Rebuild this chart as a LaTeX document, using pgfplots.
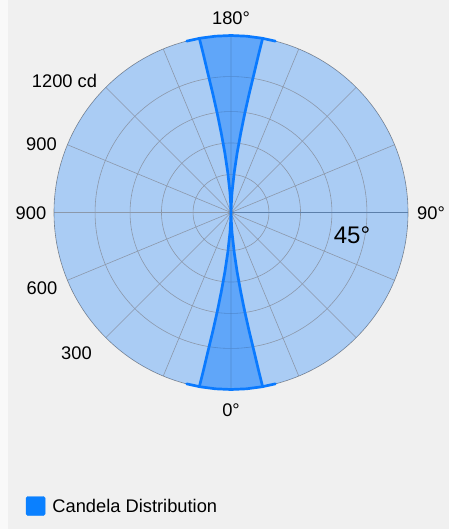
\documentclass[border=0pt]{standalone}
\usepackage{fontspec}
\setmainfont{Liberation Sans}
\usepackage{pgfplots}
\pgfplotsset{compat=1.18}
\usepgfplotslibrary{polar}
\definecolor{bgc}{RGB}{240,240,240}
\definecolor{lineblue}{RGB}{10,122,255}
\definecolor{gridc}{RGB}{196,165,134}
\definecolor{rimc}{RGB}{128,130,134}
\definecolor{legblue}{RGB}{10,128,255}
\newcommand{\lblfont}{\fontsize{18.3bp}{22bp}\selectfont}
\begin{document}
\begin{tikzpicture}
\path[use as bounding box] (0bp,0bp) rectangle (449bp,529bp);
\fill[white!60!bgc] (0bp,0bp) rectangle (449bp,529bp);
\fill[bgc] (8bp,0bp) rectangle (449bp,529bp);
\begin{polaraxis}[
  at={(231bp,316.5bp)}, anchor=center,
  scale only axis, width=354bp, height=354bp,
  clip=false,
  xmin=0, xmax=360,
  ymin=0, ymax=1250,
  xtick={0,22.5,...,337.5}, ytick={268,491,713,960},
  xticklabels={}, yticklabels={},
  major tick length=0pt,
  grid=major,
  grid style={draw=gridc, line width=0.6bp},
  axis line style={draw=rimc, line width=0.6bp},
  legend cell align=left,
  legend style={at={(-0.0791,-0.3291)}, anchor=west, draw=none, fill=none,
    inner sep=0pt, outer sep=0pt, font=\lblfont,
    nodes={inner sep=0pt, text height=13bp, text depth=0pt}},
]
% angles are polar angles (chart angle minus 90): chart 180 deg is at the top
% light disc (full range), translucent over the grid
\addplot[fill=lineblue, fill opacity=0.30, draw=none, forget plot] coordinates {
(0,1250) (5,1250) (10,1250) (15,1250) (20,1250) (25,1250) (30,1250) (35,1250) (40,1250) (45,1250)
(50,1250) (55,1250) (60,1250) (65,1250) (70,1250) (75,1250) (80,1250) (85,1250) (90,1250) (95,1250)
(100,1250) (105,1250) (110,1250) (115,1250) (120,1250) (125,1250) (130,1250) (135,1250) (140,1250) (145,1250)
(150,1250) (155,1250) (160,1250) (165,1250) (170,1250) (175,1250) (180,1250) (185,1250) (190,1250) (195,1250)
(200,1250) (205,1250) (210,1250) (215,1250) (220,1250) (225,1250) (230,1250) (235,1250) (240,1250) (245,1250)
(250,1250) (255,1250) (260,1250) (265,1250) (270,1250) (275,1250) (280,1250) (285,1250) (290,1250) (295,1250)
(300,1250) (305,1250) (310,1250) (315,1250) (320,1250) (325,1250) (330,1250) (335,1250) (340,1250) (345,1250)
(350,1250) (355,1250) (360,1250)};
% top lobe (chart 180 deg) fill
\addplot[fill=lineblue, fill opacity=0.46, draw=none, forget plot] coordinates {
(90,0) (92.3,71) (92.9,141) (94.6,282) (95.9,424) (97.0,565) (97.9,706) (98.7,847) (99.4,989) (99.9,1130) (100.3,1250)
(95,1250) (90,1250) (85,1250)
(79.7,1250) (80.1,1130) (80.6,989) (81.3,847) (82.1,706) (83.0,565) (84.1,424) (85.4,282) (87.1,141) (87.7,71) (90,0)};
% bottom lobe (chart 0 deg) fill
\addplot[fill=lineblue, fill opacity=0.46, draw=none, forget plot] coordinates {
(270,0) (267.7,71) (267.1,141) (265.4,282) (264.1,424) (263.0,565) (262.1,706) (261.3,847) (260.6,989) (260.1,1130) (259.7,1250)
(265,1250) (270,1250) (275,1250)
(280.3,1250) (279.9,1130) (279.4,989) (278.7,847) (277.9,706) (277.0,565) (275.9,424) (274.6,282) (272.9,141) (272.3,71) (270,0)};
% outlines
\addplot[draw=lineblue, line width=2.7bp, line join=round, line cap=round, forget plot] coordinates {
(104.5,1250) (100,1250) (95,1250) (90,1250) (85,1250) (80,1250) (75.5,1250)};
\addplot[draw=lineblue, line width=2.7bp, line join=round, line cap=round, forget plot] coordinates {
(100.3,1250) (99.9,1130) (99.4,989) (98.7,847) (97.9,706) (97.0,565) (95.9,424) (94.6,282) (92.9,141) (92.3,71) (90,0)
(87.7,71) (87.1,141) (85.4,282) (84.1,424) (83.0,565) (82.1,706) (81.3,847) (80.6,989) (80.1,1130) (79.7,1250)};
\addplot[draw=lineblue, line width=2.7bp, line join=round, line cap=round, forget plot] coordinates {
(255.5,1250) (260,1250) (265,1250) (270,1250) (275,1250) (280,1250) (284.5,1250)};
\addplot[draw=lineblue, line width=2.7bp, line join=round, line cap=round, forget plot] coordinates {
(259.7,1250) (260.1,1130) (260.6,989) (261.3,847) (262.1,706) (263.0,565) (264.1,424) (265.4,282) (267.1,141) (267.7,71) (270,0)
(272.3,71) (272.9,141) (274.6,282) (275.9,424) (277.0,565) (277.9,706) (278.7,847) (279.4,989) (279.9,1130) (280.3,1250)};
\addlegendimage{legend image code/.code={\fill[legblue, rounded corners=1.5bp] (0bp,-9.5bp) rectangle (19bp,9.5bp); \path (26bp,0bp);}}
\addlegendentry{Candela Distribution}
\end{polaraxis}
\node[font=\lblfont] at (231bp,511bp) {180°};
\node[font=\lblfont] at (231bp,119bp) {0°};
\node[font=\lblfont] at (431bp,316bp) {90°};
\node[font=\lblfont] at (64.5bp,448bp) {1200 cd};
\node[font=\lblfont] at (41.5bp,385bp) {900};
\node[font=\lblfont] at (31bp,316bp) {900};
\node[font=\lblfont] at (42bp,241bp) {600};
\node[font=\lblfont] at (76.5bp,176bp) {300};
\node[font=\fontsize{24bp}{28bp}\selectfont] at (352bp,294bp) {45°};
\end{tikzpicture}
\end{document}
